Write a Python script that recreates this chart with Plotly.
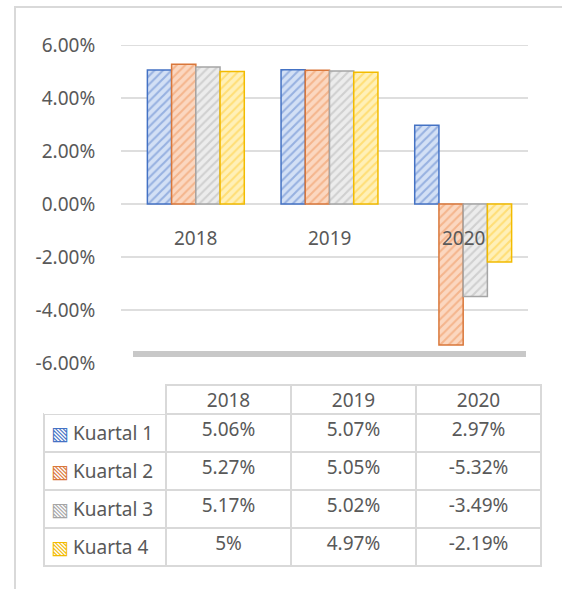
import plotly.graph_objects as go

# ---- data ----
years = ["2018", "2019", "2020"]
series_names = ["Kuartal 1", "Kuartal 2", "Kuartal 3", "Kuarta 4"]
kuartal1 = [5.06, 5.07, 2.97]
kuartal2 = [5.27, 5.05, -5.32]
kuartal3 = [5.17, 5.02, -3.49]
kuartal4 = [5.00, 4.97, -2.19]
y_ticks = [-6, -4, -2, 0, 2, 4, 6]
y_tick_labels = ["-6.00%", "-4.00%", "-2.00%", "0.00%", "2.00%", "4.00%", "6.00%"]

series_values = [kuartal1, kuartal2, kuartal3, kuartal4]
stripe_colors = ["#5b82cc", "#ee945a", "#b3b3b3", "#ffcc33"]
bg_colors = ["#d3e0f5", "#fbd7c0", "#ececec", "#fff0b8"]
border_colors = ["#4472C4", "#d9773a", "#a5a5a5", "#f2bb00"]

W, H = 562, 589
FONT = "Noto Sans"
TXT = "#595959"


def px_x(p):
    return p / W


def px_y(p):
    return 1 - p / H


def fmt(v):
    s = ("%.2f" % v).rstrip("0").rstrip(".")
    return s + "%"


fig = go.Figure()
for name, vals, sc, bc, lc in zip(series_names, series_values, stripe_colors, bg_colors, border_colors):
    fig.add_trace(go.Bar(
        x=years, y=vals, name=name,
        marker=dict(
            color=sc,
            line=dict(color=lc, width=1.5),
            pattern=dict(shape="/", fgcolor=sc, bgcolor=bc, size=6, solidity=0.35),
        ),
        showlegend=False,
        xaxis="x", yaxis="y",
    ))

# table under the chart
TBL_TOP, HDR_H, ROW_H = 385, 29, 38
col_cells = [[fmt(vals[i]) for vals in series_values] for i in range(len(years))]
fig.add_trace(go.Table(
    domain=dict(x=[px_x(44), px_x(541)], y=[px_y(TBL_TOP + HDR_H + 4 * ROW_H + 2), px_y(TBL_TOP)]),
    columnwidth=[122, 125, 125, 125],
    header=dict(
        values=[""] + years,
        height=HDR_H,
        align="center",
        fill=dict(color="white"),
        line=dict(color=["rgba(255,255,255,0)", "#d9d9d9", "#d9d9d9", "#d9d9d9"], width=2),
        font=dict(family=FONT, size=19, color=TXT),
    ),
    cells=dict(
        values=[[""] * len(series_names)] + col_cells,
        height=ROW_H,
        align=["left", "center", "center", "center"],
        fill=dict(color="white"),
        line=dict(color="#d9d9d9", width=2),
        font=dict(family=FONT, size=19, color=TXT),
    ),
))

# legend keys and series names inside the table's first column
for i, (c, n) in enumerate(zip(border_colors, series_names)):
    yc = px_y(TBL_TOP + HDR_H + (i + 0.5) * ROW_H)
    fig.add_annotation(xref="paper", yref="paper", x=px_x(60), y=yc,
                       text="▧", showarrow=False, xanchor="center", yanchor="middle",
                       font=dict(family="DejaVu Sans", size=19, color=c))
    fig.add_annotation(xref="paper", yref="paper", x=px_x(71), y=yc,
                       text=n, showarrow=False, xanchor="left", yanchor="middle",
                       font=dict(family=FONT, size=19, color=TXT))

# gridlines (back wall)
for v in y_ticks:
    if v > y_ticks[0]:
        fig.add_shape(type="line", xref="paper", yref="y",
                      x0=px_x(121), x1=px_x(528), y0=v, y1=v,
                      line=dict(color="#dedede", width=2), layer="below")
# floor
fig.add_shape(type="line", xref="paper", yref="y",
              x0=px_x(133), x1=px_x(526), y0=-5.66, y1=-5.66,
              line=dict(color="#c8c8c8", width=6), layer="below")
# outer chart border
fig.add_shape(type="rect", xref="paper", yref="paper",
              x0=px_x(15), x1=px_x(566), y0=px_y(7), y1=px_y(595),
              line=dict(color="#d9d9d9", width=2))

# category labels at the zero line
for i, yr in enumerate(years):
    fig.add_annotation(x=i, y=0, xref="x", yref="y", text=yr, showarrow=False,
                       yanchor="middle", yshift=-34,
                       font=dict(family=FONT, size=19, color=TXT))

fig.update_layout(
    width=W, height=H,
    margin=dict(l=0, r=0, t=0, b=0, autoexpand=False),
    paper_bgcolor="white", plot_bgcolor="rgba(0,0,0,0)",
    barmode="group", bargap=0.275, bargroupgap=0,
    xaxis=dict(type="category", domain=[px_x(129), px_x(530)], range=[-0.5, len(years) - 0.5],
               showticklabels=False, showgrid=False, zeroline=False, showline=False, anchor="y"),
    yaxis=dict(domain=[px_y(363), px_y(45)], range=[-6, 6], tickvals=y_ticks,
               ticktext=y_tick_labels, showgrid=False, zeroline=False, showline=False,
               ticks="outside", ticklen=29, tickcolor="rgba(0,0,0,0)",
               tickfont=dict(family=FONT, size=19, color=TXT), anchor="x",
               automargin=False),
)

fig.write_html("out.html", config={"displayModeBar": False},
               post_script="document.body.style.margin='0px';")
